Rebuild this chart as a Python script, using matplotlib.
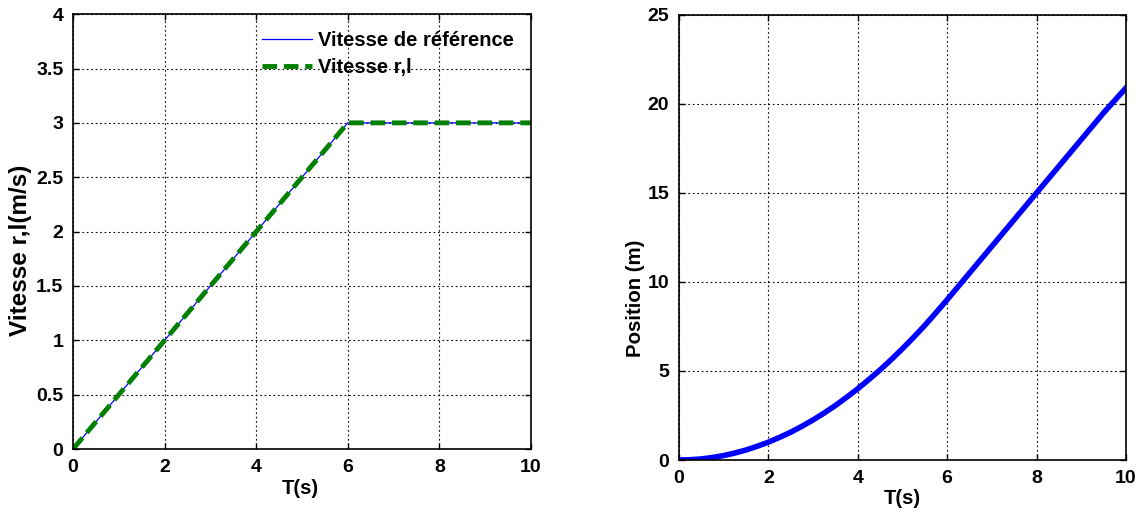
import matplotlib.pyplot as plt
import numpy as np

plt.rcParams['font.family'] = ['Liberation Sans', 'DejaVu Sans']
plt.rcParams['font.weight'] = 'bold'
plt.rcParams['font.size'] = 14

# speed profile (breakpoints of the ramp)
t_speed = [0, 6, 10]
v_ref = [0, 3, 3]
v_rl = [0, 3, 3]

# position read every 0.25 s up to 6 s, then every 0.5 s
t_pos = [0, 0.25, 0.5, 0.75, 1, 1.25, 1.5, 1.75, 2, 2.25, 2.5, 2.75, 3,
         3.25, 3.5, 3.75, 4, 4.25, 4.5, 4.75, 5, 5.25, 5.5, 5.75, 6,
         6.5, 7, 7.5, 8, 8.5, 9, 9.5, 10]
pos = [0, 0.016, 0.06, 0.14, 0.25, 0.39, 0.56, 0.77, 1, 1.27, 1.56, 1.89, 2.25,
       2.64, 3.06, 3.52, 4, 4.52, 5.06, 5.64, 6.25, 6.89, 7.56, 8.27, 9,
       10.5, 12, 13.5, 15, 16.5, 18, 19.5, 20.9]

fig = plt.figure(figsize=(11.41, 5.11), dpi=100)
ax1 = fig.add_axes([0.064, 0.1213, 0.4014, 0.851])
ax2 = fig.add_axes([0.595, 0.0998, 0.3918, 0.871])

ax1.plot(t_speed, v_ref, color='blue', lw=0.9, label='Vitesse de référence')
ax1.plot(t_speed, v_rl, color='green', lw=3.5, ls=(0, (3, 1.4)), label='Vitesse r,l')
ax1.set_xlim(0, 10)
ax1.set_ylim(0, 4)
ax1.set_xticks(np.arange(0, 11, 2))
ax1.set_yticks(np.arange(0, 4.01, 0.5))
ax1.set_yticklabels(['0', '0.5', '1', '1.5', '2', '2.5', '3', '3.5', '4'])
ax1.set_xlabel('T(s)', fontweight='bold', fontsize=14.5)
ax1.set_ylabel('Vitesse r,l(m/s)', fontweight='bold', fontsize=17.5)
ax1.xaxis.set_label_coords(0.496, -0.068)
ax1.yaxis.set_label_coords(-0.089, 0.457)
ax1.legend(loc='upper right', frameon=False, handlelength=2.5, borderaxespad=0.45,
           labelspacing=0.4, handletextpad=0.3, prop={'weight': 'bold', 'size': 14.5})

ax2.plot(t_pos, pos, color='blue', lw=4)
ax2.set_xlim(0, 10)
ax2.set_ylim(0, 25)
ax2.set_xticks(np.arange(0, 11, 2))
ax2.set_yticks(np.arange(0, 26, 5))
ax2.set_xlabel('T(s)', fontweight='bold', fontsize=14.5)
ax2.set_ylabel('Position (m)', fontweight='bold', fontsize=14.7)
ax2.xaxis.set_label_coords(0.5, -0.065)
ax2.yaxis.set_label_coords(-0.076, 0.364)

for ax in (ax1, ax2):
    ax.grid(True, color='black', ls=(0, (1.5, 2.5)), lw=0.8)
    ax.tick_params(direction='in', length=4, width=1, top=True, right=True, pad=7)
    for s in ax.spines.values():
        s.set_linewidth(1.2)

fig.savefig('out.png', dpi=100)
